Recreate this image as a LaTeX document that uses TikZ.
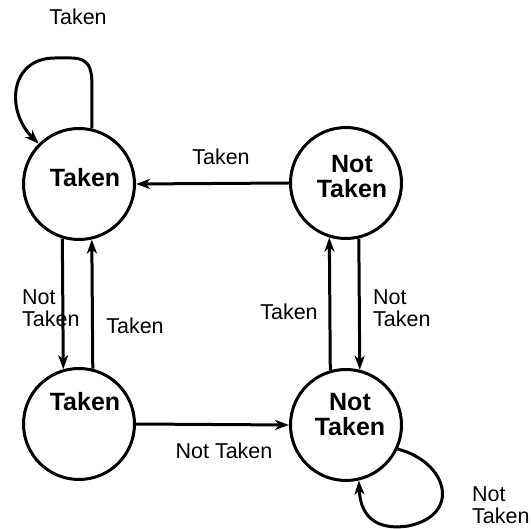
\documentclass[tikz,border=0pt]{standalone}
\usepackage{fontspec}
\setmainfont{Liberation Sans}
\usetikzlibrary{arrows.meta}
\begin{document}
\begin{tikzpicture}[x=1pt,y=-1pt,
  state/.style={draw,circle,line width=3pt,minimum size=111pt,inner sep=0pt},
  stxt/.style={align=center,inner sep=0pt,font=\fontsize{25}{25}\selectfont\bfseries},
  edge/.style={line width=3pt,-{Stealth[length=14pt,width=10pt,inset=4pt]}},
  lbl/.style={font=\fontsize{21.5}{22}\selectfont,inner sep=0pt}]
\useasboundingbox (0,0) rectangle (531,529);
% states
\node[state] (t1) at (79,184) {};
\node[state] (n1) at (346,183) {};
\node[state] (t2) at (79,424) {};
\node[state] (n2) at (346,425) {};
\node[stxt] (t1txt) at (85,178) {Taken};
\node[stxt] (n1txt) at (352,177) {Not\\Taken};
\node[stxt] (t2txt) at (85,402) {Taken};
\node[stxt] (n2txt) at (350,415) {Not\\Taken};
% transitions between states
\draw[edge] (n1.west) -- (t1.east);
\draw[edge] (t2.east) -- (n2.west);
\draw[edge] (t1.253.7) -- (t2.106.3);
\draw[edge] (t2.76.8) -- (t1.283.2);
\draw[edge] (n2.106.3) -- (n1.253.7);
\draw[edge] (n1.283.2) -- (n2.76.8);
% self loops
\draw[edge] (t1.77) -- (92,85) .. controls (92,55) and (80,58) .. (55,58)
  .. controls (10,58) and (5,110) .. (t1.135);
\draw[edge] (n2.-25) .. controls (448,462) and (462,515) .. (408,526)
  .. controls (366,532) and (360,505) .. (n2.-77);
% labels
\node[lbl] (l1) at (78,17) {Taken};
\node[lbl] (l2) at (221,157) {Taken};
\node[lbl,align=left,anchor=west] (l3) at (22,308) {Not\\Taken};
\node[lbl] (l4) at (135,326) {Taken};
\node[lbl] (l5) at (289,312) {Taken};
\node[lbl,align=left,anchor=west] (l6) at (373,308) {Not\\Taken};
\node[lbl] (l7) at (224,451) {Not Taken};
\node[lbl,align=left,anchor=west] (l8) at (472,505) {Not\\Taken};
\end{tikzpicture}
\end{document}
